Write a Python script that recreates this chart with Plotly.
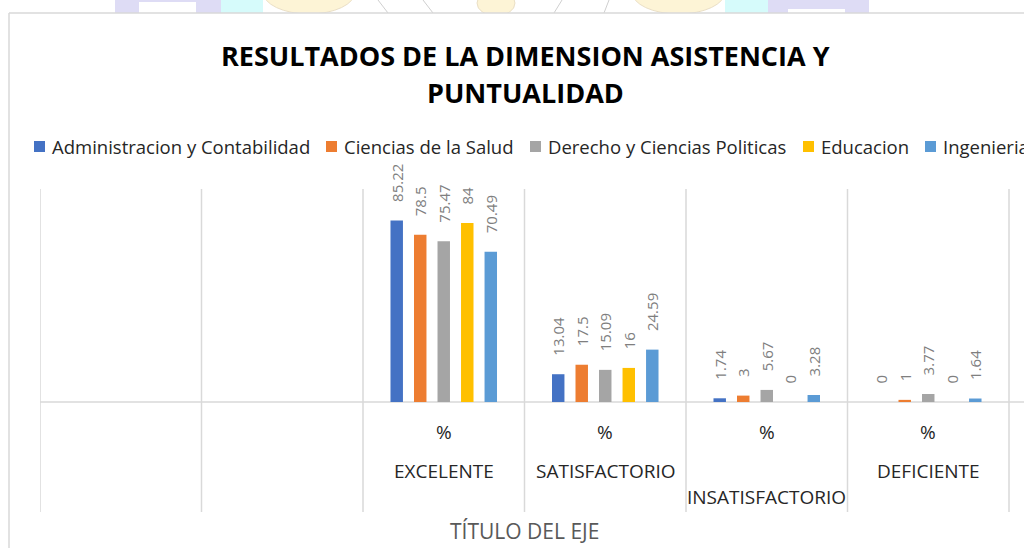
import plotly.graph_objects as go

# ---------------- data ----------------
categories = ["", "", "EXCELENTE", "SATISFACTORIO", "INSATISFACTORIO", "DEFICIENTE"]
sublabels = ["", "", "%", "%", "%", "%"]
series_names = ["Administracion y Contabilidad", "Ciencias de la Salud",
                "Derecho y Ciencias Politicas", "Educacion", "Ingenieria"]
admin = [None, None, 85.22, 13.04, 1.74, 0]
salud = [None, None, 78.5, 17.5, 3, 1]
derecho = [None, None, 75.47, 15.09, 5.67, 3.77]
educacion = [None, None, 84, 16, 0, 0]
ingenieria = [None, None, 70.49, 24.59, 3.28, 1.64]
colors = ["#4472C4", "#ED7D31", "#A5A5A5", "#FFC000", "#5B9BD5"]
series_values = [admin, salud, derecho, educacion, ingenieria]

# ---------------- geometry ----------------
W, H = 1024, 548
ML, MR, MT, MB = 40, 0, 189, 146
PW, PH = W - ML - MR, H - MT - MB
CAT_W = 161.5


def px(x):
    return (x - ML) / PW


def py(y):
    return (H - MB - y) / PH


xs = list(range(len(categories)))
fig = go.Figure()
for name, vals, col in zip(series_names, series_values, colors):
    fig.add_trace(go.Bar(
        x=xs, y=vals, name=name, marker=dict(color=col, line=dict(width=0)),
        text=[("\u00a0\u00a0\u00a0\u00a0" + f"{v:g}") if v is not None else "" for v in vals],
        textposition="outside", textangle=-90, constraintext="none",
        cliponaxis=False,
        textfont=dict(family="Open Sans", size=15, color="#7f7f7f"),
        showlegend=False, hoverinfo="skip",
    ))

shapes = []
# faint watermark strip above chart
wm = dict(xref="paper", yref="paper", layer="below")
shapes += [
    dict(type="rect", x0=px(115), x1=px(221), y0=py(-5), y1=py(20), fillcolor="#dedcf5", line=dict(width=0), **wm),
    dict(type="rect", x0=px(139), x1=px(196), y0=py(2), y1=py(20), fillcolor="#ffffff", line=dict(width=0), **wm),
    dict(type="rect", x0=px(221), x1=px(263), y0=py(-5), y1=py(20), fillcolor="#d6fbfb", line=dict(width=0), **wm),
    dict(type="circle", x0=px(263), x1=px(355), y0=py(-30), y1=py(14), fillcolor="#fdf4d6", line=dict(color="#eadfc6", width=1), **wm),
    dict(type="line", x0=px(378), x1=px(388), y0=py(0), y1=py(13), line=dict(color="#cfcfcf", width=1), **wm),
    dict(type="line", x0=px(423), x1=px(433), y0=py(0), y1=py(13), line=dict(color="#cfcfcf", width=1), **wm),
    dict(type="circle", x0=px(477), x1=px(515), y0=py(-10), y1=py(16), fillcolor="#fdf4d6", line=dict(color="#eadfc6", width=1), **wm),
    dict(type="line", x0=px(562), x1=px(554), y0=py(0), y1=py(13), line=dict(color="#cfcfcf", width=1), **wm),
    dict(type="line", x0=px(609), x1=px(604), y0=py(0), y1=py(13), line=dict(color="#cfcfcf", width=1), **wm),
    dict(type="circle", x0=px(632), x1=px(725), y0=py(-30), y1=py(14), fillcolor="#fdf4d6", line=dict(color="#eadfc6", width=1), **wm),
    dict(type="rect", x0=px(725), x1=px(768), y0=py(-5), y1=py(20), fillcolor="#d6fbfb", line=dict(width=0), **wm),
    dict(type="rect", x0=px(768), x1=px(869), y0=py(-5), y1=py(20), fillcolor="#dedcf5", line=dict(width=0), **wm),
    dict(type="rect", x0=px(788), x1=px(845), y0=py(9), y1=py(20), fillcolor="#ffffff", line=dict(width=0), **wm),
    # white chart area
    dict(type="rect", x0=px(9), x1=px(1100), y0=py(13), y1=py(600), fillcolor="#ffffff", line=dict(width=0), **wm),
    # chart border
    dict(type="line", x0=px(9), x1=px(9), y0=py(13), y1=py(600), line=dict(color="#d9d9d9", width=1.5), **wm),
    dict(type="line", x0=px(9), x1=px(1100), y0=py(13), y1=py(13), line=dict(color="#d9d9d9", width=1.5), **wm),
    # category axis line
    dict(type="line", x0=0, x1=1, y0=0, y1=0, line=dict(color="#d9d9d9", width=1.5), **wm),
]
# vertical category separators (extend through label area)
for i in range(len(categories) + 1):
    shapes.append(dict(type="line", xref="x", yref="paper", layer="below",
                       x0=i - 0.5, x1=i - 0.5, y0=py(512), y1=1,
                       line=dict(color="#d9d9d9", width=1.5)))

annotations = []
# title
annotations.append(dict(text="<b>RESULTADOS DE LA DIMENSION ASISTENCIA Y</b>", x=px(525), y=py(55),
                        xref="paper", yref="paper", showarrow=False, xanchor="center", yanchor="middle",
                        font=dict(family="Open Sans", size=27, color="#000000")))
annotations.append(dict(text="<b>PUNTUALIDAD</b>", x=px(525), y=py(93),
                        xref="paper", yref="paper", showarrow=False, xanchor="center", yanchor="middle",
                        font=dict(family="Open Sans", size=27, color="#000000")))
# legend (manual, clipped at right edge like the reference)
leg_x = [34, 326, 530, 803, 925]
for name, col, lx in zip(series_names, colors, leg_x):
    shapes.append(dict(type="rect", xref="paper", yref="paper", x0=px(lx), x1=px(lx + 11),
                       y0=py(152), y1=py(141), fillcolor=col, line=dict(width=0)))
    annotations.append(dict(text=name, x=px(lx + 16), y=py(146.5), xref="paper", yref="paper",
                            showarrow=False, xanchor="left", yanchor="middle",
                            font=dict(family="Open Sans", size=18.5, color="#262626")))
# category labels (two levels)
name_y = [471, 471, 471, 471, 497, 471]
for i, (sub, cat) in enumerate(zip(sublabels, categories)):
    if sub:
        annotations.append(dict(text=sub, x=i, y=py(432), xref="x", yref="paper", showarrow=False,
                                xanchor="center", yanchor="middle",
                                font=dict(family="Open Sans", size=19, color="#262626")))
    if cat:
        annotations.append(dict(text=cat, x=i, y=py(name_y[i]), xref="x", yref="paper", showarrow=False,
                                xanchor="center", yanchor="middle",
                                font=dict(family="Open Sans", size=19, color="#262626")))
# axis title
annotations.append(dict(text="TÍTULO DEL EJE", x=px(524), y=py(531), xref="paper", yref="paper",
                        showarrow=False, xanchor="center", yanchor="middle",
                        font=dict(family="Open Sans", size=21, color="#595959")))

fig.update_layout(
    width=W, height=H,
    margin=dict(l=ML, r=MR, t=MT, b=MB, pad=0),
    paper_bgcolor="#ffffff", plot_bgcolor="rgba(0,0,0,0)",
    barmode="group", bargap=0.272, bargroupgap=0.47,
    xaxis=dict(range=[-0.5, -0.5 + PW / CAT_W], showgrid=False, zeroline=False,
               showticklabels=False, showline=False, fixedrange=True),
    yaxis=dict(range=[0, 100], showgrid=False, zeroline=False, showticklabels=False,
               showline=False, fixedrange=True),
    shapes=shapes, annotations=annotations, showlegend=False,
)

fig.write_html("out.html", config={"displayModeBar": False},
               post_script="document.body.style.margin='0px';document.body.style.overflow='hidden';")
